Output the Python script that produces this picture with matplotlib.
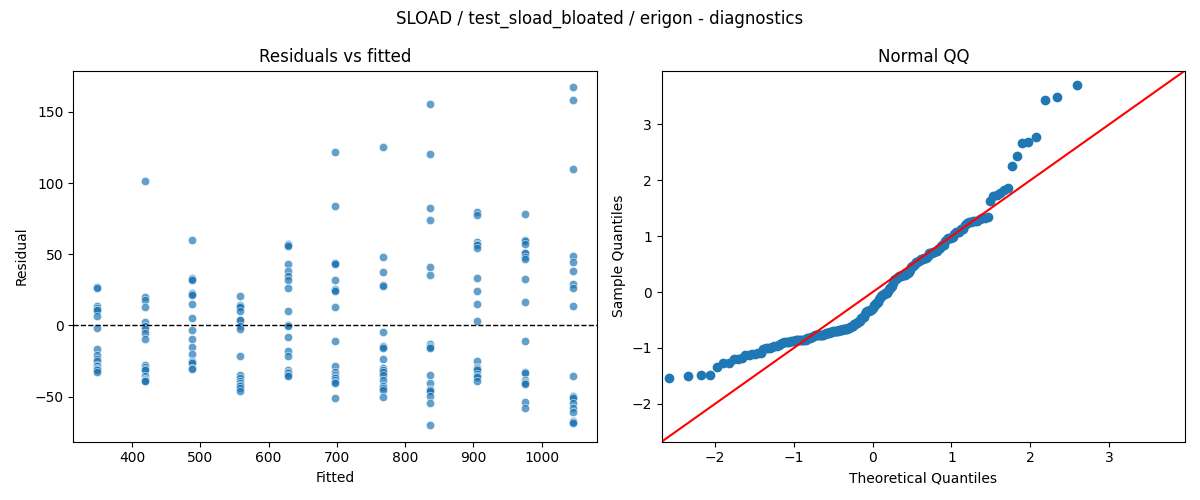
import numpy as np
import matplotlib
matplotlib.use("Agg")
from matplotlib import pyplot as plt
from statistics import NormalDist

# fitted levels (one column of points per level)
fitted_levels = [349, 419, 488, 558, 628, 697, 767, 836, 906, 976, 1046]

# residuals, per fitted level
res_349 = [27.1, 26.3, 13.3, 12.2, 11.0, 10.5, 6.8, -1.9, -16.6, -20.6, -23.4, -25.3, -27.6, -28.8, -29.9, -30.6, -31.6, -33.0]
res_419 = [101.5, 19.9, 18.0, 12.9, 2.3, -0.7, -2.6, -5.4, -9.4, -27.6, -29.2, -30.8, -31.6, -35.3, -37.7, -38.6, -38.9, -39.2]
res_488 = [59.9, 33.0, 32.4, 31.6, 22.9, 21.9, 21.3, 15.0, 5.1, -3.0, -9.4, -15.2, -20.1, -25.3, -25.8, -26.4, -29.9, -30.4]
res_558 = [20.6, 14.3, 13.8, 12.9, 9.8, 4.0, 3.5, -0.7, -2.6, -21.3, -34.6, -37.0, -39.3, -40.2, -41.6, -42.8, -44.0, -45.8]
res_628 = [57.5, 56.4, 55.9, 43.3, 38.1, 34.8, 31.6, 26.2, 10.3, 0.5, -0.7, -8.2, -17.8, -21.3, -31.6, -32.5, -33.4, -34.6, -35.3]
res_697 = [121.6, 83.7, 43.8, 43.5, 43.0, 31.8, 25.7, 25.0, 23.9, 12.9, -11.0, -28.3, -32.7, -35.1, -36.5, -37.2, -38.6, -39.5, -40.5, -51.0]
res_767 = [125.1, 48.2, 37.4, 28.1, 27.4, -4.7, -14.7, -15.2, -15.7, -23.4, -30.2, -31.1, -31.6, -32.7, -34.6, -38.6, -42.3, -44.2, -45.1, -50.3]
res_836 = [155.3, 120.2, 82.3, 73.9, 40.9, 35.3, -12.9, -14.3, -15.0, -16.1, -34.6, -40.5, -44.6, -45.1, -46.3, -49.3, -54.5, -69.9]
res_906 = [80.0, 77.6, 58.9, 57.1, 56.5, 54.3, 33.2, 24.1, 15.0, 3.0, -24.8, -29.2, -29.9, -30.6, -31.6, -34.2, -35.8, -36.3, -39.3]
res_976 = [78.1, 60.3, 59.6, 57.5, 51.0, 50.7, 48.4, 46.5, 32.5, 16.4, -11.0, -33.0, -33.4, -38.6, -39.8, -40.4, -41.0, -53.6, -58.0]
res_1046 = [167.2, 158.1, 109.7, 48.6, 44.2, 38.1, 29.2, 26.2, 13.6, -35.3, -49.8, -50.2, -51.0, -54.5, -58.0, -61.0, -67.2, -67.6, -68.5]

residual_groups = [res_349, res_419, res_488, res_558, res_628, res_697,
                   res_767, res_836, res_906, res_976, res_1046]

fitted = np.concatenate([[f] * len(g) for f, g in zip(fitted_levels, residual_groups)])
resid = np.concatenate(residual_groups)

# QQ: standardized sorted residuals vs normal plotting positions i/(n+1)
n = len(resid)
sample_q = (np.sort(resid) - resid.mean()) / resid.std()
theo_q = np.array([NormalDist().inv_cdf(i / (n + 1)) for i in range(1, n + 1)])

fig, (ax1, ax2) = plt.subplots(1, 2, figsize=(12, 5), dpi=100)

ax1.scatter(fitted, resid, s=36, color="C0", alpha=0.7, edgecolor="w", linewidth=0.5)
ax1.axhline(0, color="black", linestyle="--", linewidth=1)
ax1.set_title("Residuals vs fitted")
ax1.set_xlabel("Fitted")
ax1.set_ylabel("Residual")

ax2.plot(theo_q, sample_q, "o", color="C0", markersize=6)
lims = [-2.68, 3.965]
ax2.plot(lims, lims, "r")
ax2.set_xlim(lims)
ax2.set_ylim(lims)
ax2.set_title("Normal QQ")
ax2.set_xlabel("Theoretical Quantiles")
ax2.set_ylabel("Sample Quantiles")

fig.suptitle("SLOAD / test_sload_bloated / erigon - diagnostics")
fig.tight_layout()
fig.savefig("out.png")
